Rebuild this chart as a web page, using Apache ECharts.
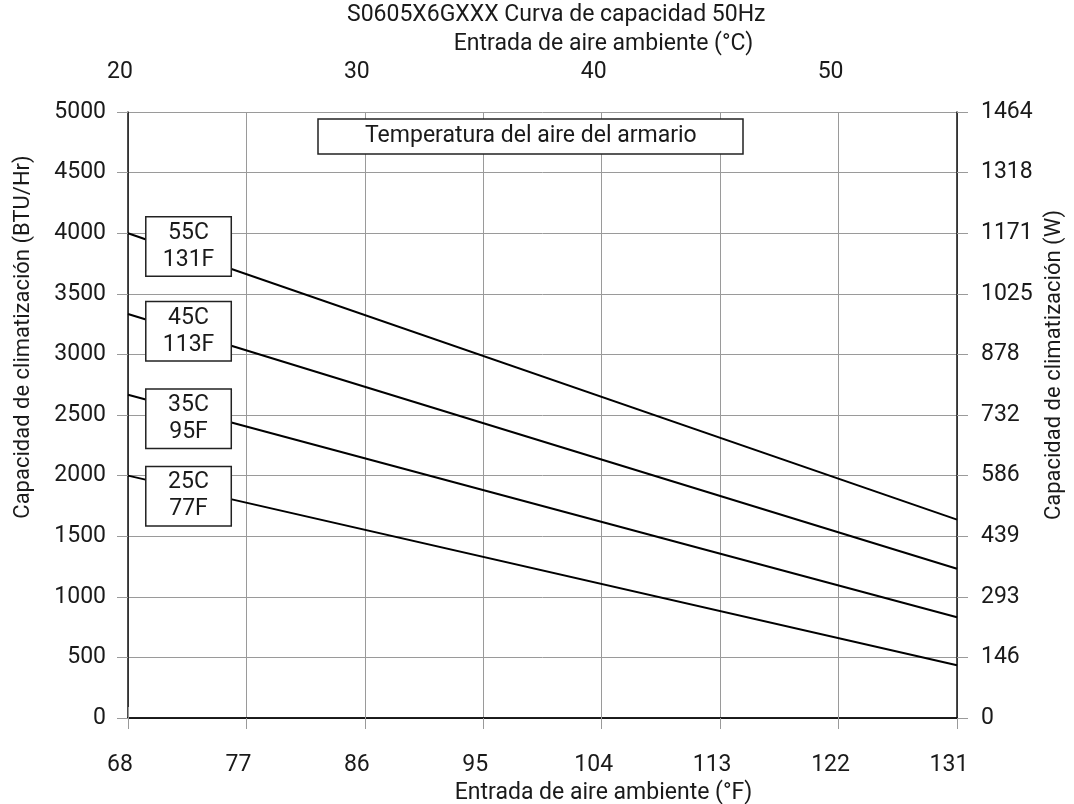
<!DOCTYPE html>
<html>
<head>
<meta charset="utf-8">
<script src="https://cdn.jsdelivr.net/npm/echarts@6/dist/echarts.min.js"></script>
<style>
html,body{margin:0;padding:0;background:#fff;}
#chart{width:1074px;height:804px;}
</style>
</head>
<body>
<div id="chart"></div>
<script>
// ---- data ----
const ambientF = [68, 131];
const cap55C = [4000, 1637];
const cap45C = [3333, 1232];
const cap35C = [2667, 832];
const cap25C = [2000, 435];
const seriesNames = ['55C\n131F', '45C\n113F', '35C\n95F', '25C\n77F'];
const labelAnchorF = [72.6, 72.6, 72.6, 72.6];
const labelAnchorBTU = [3890, 3190, 2470, 1830];
const wattTickLabels = ['0', '146', '293', '439', '586', '732', '878', '1025', '1171', '1318', '1464'];

const FONT = 'Roboto';
const FS = 23;
const TXT = '#1a1a1a';
const GRIDC = '#9a9a9a';

const allCaps = [cap55C, cap45C, cap35C, cap25C];

function mkSeries(vals, i) {
  return {
    type: 'line',
    xAxisIndex: 0,
    yAxisIndex: 0,
    data: ambientF.map((f, k) => [f, vals[k]]),
    symbol: 'none',
    lineStyle: { color: '#000', width: 2 },
    silent: true,
    z: 3,
    markPoint: {
      symbol: 'rect',
      symbolSize: 1,
      itemStyle: { color: 'rgba(0,0,0,0)' },
      silent: true,
      data: [{
        coord: [labelAnchorF[i], labelAnchorBTU[i]],
        label: {
          show: true,
          position: 'inside',
          formatter: seriesNames[i],
          fontFamily: FONT,
          fontSize: FS,
          lineHeight: 27,
          color: TXT,
          backgroundColor: '#fff',
          borderColor: '#222',
          borderWidth: 1.5,
          width: 84,
          height: 58,
          align: 'center',
          verticalAlign: 'middle',
          padding: 0
        }
      }]
    }
  };
}

const chart = echarts.init(document.getElementById('chart'), null, { renderer: 'canvas' });
chart.setOption({
  backgroundColor: '#fff',
  animation: false,
  title: [{
    text: 'S0605X6GXXX Curva de capacidad 50Hz',
    left: 347,
    top: 4,
    padding: 0,
    textStyle: { fontFamily: FONT, fontSize: FS, fontWeight: 'normal', color: TXT }
  }, {
    text: 'Temperatura del aire del armario',
    left: 318,
    top: 119,
    padding: [6, 47, 6, 47],
    borderColor: '#222',
    borderWidth: 1.5,
    backgroundColor: '#fff',
    textStyle: { fontFamily: FONT, fontSize: FS, fontWeight: 'normal', color: TXT }
  }],
  grid: { left: 128, right: 117, top: 112, bottom: 86, containLabel: false, outerBoundsMode: 'none' },
  xAxis: [{
    type: 'value',
    position: 'bottom',
    min: 68, max: 131, interval: 9,
    name: 'Entrada de aire ambiente (°F)',
    nameLocation: 'middle',
    nameGap: 59,
    nameTextStyle: { fontFamily: FONT, fontSize: FS, color: TXT, padding: [0, 0, 0, 122] },
    axisLine: { show: true, lineStyle: { color: '#111', width: 1.5 } },
    axisTick: { show: true, length: 11, lineStyle: { color: GRIDC } },
    axisLabel: { margin: 36, fontFamily: FONT, fontSize: FS, color: TXT, padding: [0, 16, 0, 0] },
    splitLine: { show: true, lineStyle: { color: GRIDC, width: 1 } }
  }, {
    type: 'value',
    position: 'top',
    min: 68, max: 131, interval: 18,
    name: 'Entrada de aire ambiente (°C)',
    nameLocation: 'middle',
    nameGap: 56,
    nameTextStyle: { fontFamily: FONT, fontSize: FS, color: TXT, padding: [0, 0, 0, 122] },
    axisLine: { show: true, lineStyle: { color: '#111', width: 1.5 } },
    axisTick: { show: true, length: 11, lineStyle: { color: GRIDC } },
    axisLabel: {
      margin: 28, fontFamily: FONT, fontSize: FS, color: TXT, padding: [0, 16, 0, 0],
      showMaxLabel: false,
      formatter: v => String(Math.round((v - 32) * 5 / 9))
    },
    splitLine: { show: false }
  }],
  yAxis: [{
    type: 'value',
    position: 'left',
    min: 0, max: 5000, interval: 500,
    name: 'Capacidad de climatización (BTU/Hr)',
    nameLocation: 'middle',
    nameRotate: 90,
    nameGap: 94,
    nameTextStyle: { fontFamily: FONT, fontSize: 22, color: TXT, padding: [0, 0, 0, 156] },
    axisLine: { show: true, lineStyle: { color: '#111', width: 1.5 } },
    axisTick: { show: true, length: 11, lineStyle: { color: GRIDC } },
    axisLabel: { margin: 22, fontFamily: FONT, fontSize: FS, color: TXT, formatter: v => String(v) },
    splitLine: { show: true, lineStyle: { color: GRIDC, width: 1 } }
  }, {
    type: 'value',
    position: 'right',
    min: 0, max: 5000, interval: 500,
    name: 'Capacidad de climatización (W)',
    nameLocation: 'middle',
    nameRotate: 90,
    nameGap: 82,
    nameTextStyle: { fontFamily: FONT, fontSize: 22, color: TXT, padding: [0, 0, 0, 100] },
    axisLine: { show: true, lineStyle: { color: '#111', width: 1.5 } },
    axisTick: { show: true, length: 11, lineStyle: { color: GRIDC } },
    axisLabel: {
      margin: 24, fontFamily: FONT, fontSize: FS, color: TXT,
      formatter: (v) => wattTickLabels[Math.round(v / 500)]
    },
    splitLine: { show: false }
  }],
  series: allCaps.map(mkSeries)
});
</script>
</body>
</html>
